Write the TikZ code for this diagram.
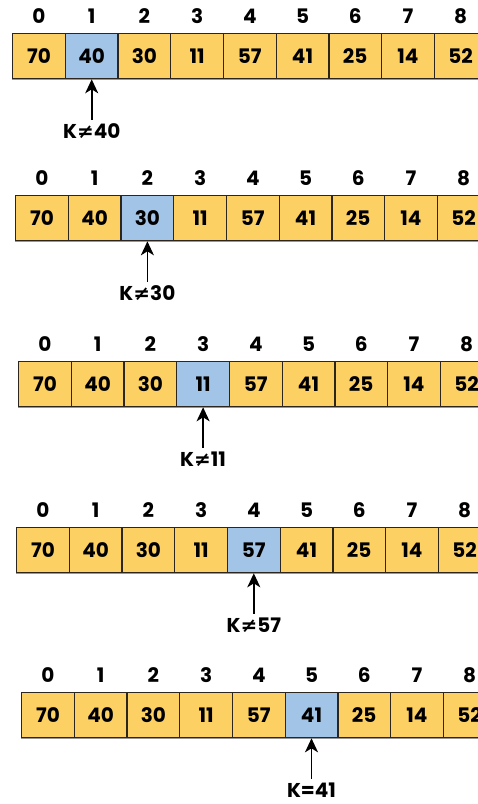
\documentclass[tikz,border=0pt]{standalone}
\usepackage{fontspec}
\setmainfont{Poppins}
\newfontfamily\symfont{DejaVu Sans}
\usepackage{tikz}
\usetikzlibrary{arrows.meta, positioning}
\definecolor{cellyellow}{RGB}{252,208,98}
\definecolor{cellblue}{RGB}{162,196,230}
\definecolor{celledge}{RGB}{45,38,30}
\definecolor{rowshade}{RGB}{150,150,150}
\tikzset{
  cell/.style={
    rectangle, draw=celledge, line width=1.3pt, fill=cellyellow,
    minimum width=52.7pt, minimum height=45pt, inner sep=0pt,
    anchor=north west, font=\fontsize{20}{24}\selectfont\bfseries
  },
  hit/.style={cell, fill=cellblue},
  idx/.style={font=\fontsize{20}{24}\selectfont\bfseries, inner sep=0pt},
  klbl/.style={font=\fontsize{20}{24}\selectfont\bfseries, inner sep=4pt},
  arr/.style={-{Stealth[length=14pt, width=13pt, inset=4pt]}, line width=1.8pt}
}

\begin{document}
\begin{tikzpicture}[x=1pt, y=-1pt]
  \clip (0,0) rectangle (478,804);

  % one row per search step: left edge / top edge / checked index / label
  \foreach \r/\lx/\ty/\hit/\kt in {
      1/12/33/1/{K{\symfont\bfseries ≠}40},
      2/15/195/2/{K{\symfont\bfseries ≠}30},
      3/18/361/3/{K{\symfont\bfseries ≠}11},
      4/16/527/4/{K{\symfont\bfseries ≠}57},
      5/21/692/5/{K=41}} {
    \fill[rowshade] (\lx,\ty+45) rectangle ++(9*52.7,2);
    \foreach \v [count=\i from 0] in {70,40,30,11,57,41,25,14,52} {
      \ifnum\i=\hit\def\sty{hit}\else\def\sty{cell}\fi
      \node[\sty] (a\r-\i) at (\lx+\i*52.7,\ty) {\v};
      \node[idx] (n\r-\i) at ([yshift=17pt]a\r-\i.north) {\i};
    }
    \node[klbl] (k\r) at ([yshift=-52pt]a\r-\hit.south) {\kt};
    \draw[arr] (k\r) -- (a\r-\hit);
  }
\end{tikzpicture}
\end{document}
